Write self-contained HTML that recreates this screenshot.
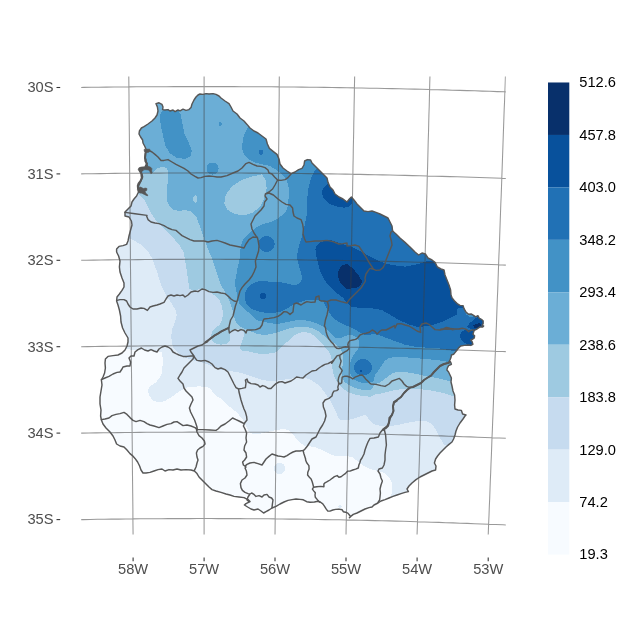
<!DOCTYPE html>
<html><head><meta charset="utf-8"><title>Map</title>
<style>html,body{margin:0;padding:0;background:#fff}svg{display:block}</style></head>
<body>
<svg width="630" height="630" viewBox="0 0 630 630">
<rect width="630" height="630" fill="#fff"/>
<defs><clipPath id="uy"><path d="M156.0,103.6 L159.0,102.8 L162.0,104.4 L163.0,107.0 L162.6,109.6 L165.0,110.0 L168.0,109.6 L170.0,111.0 L173.0,110.0 L175.0,111.6 L178.0,110.0 L180.0,110.8 L183.0,109.2 L186.0,110.4 L189.0,109.6 L191.0,107.6 L192.0,104.0 L194.0,100.0 L196.0,97.0 L198.0,95.0 L200.0,94.0 L203.0,94.4 L206.0,93.6 L209.0,94.0 L213.0,93.6 L216.0,94.4 L219.0,96.0 L221.0,98.0 L225.0,101.0 L229.0,103.6 L231.0,107.0 L233.0,111.0 L237.0,114.0 L240.0,118.0 L244.0,121.0 L247.0,124.4 L250.0,128.0 L254.0,131.0 L258.0,133.0 L262.0,136.0 L266.0,139.0 L267.4,144.0 L269.4,148.4 L273.4,151.6 L277.0,154.4 L279.0,159.0 L280.0,164.0 L283.0,168.0 L287.0,171.0 L291.0,173.6 L295.0,172.0 L298.6,169.6 L302.0,168.4 L304.0,165.0 L304.6,161.0 L307.4,159.6 L310.6,160.0 L312.0,163.0 L315.0,166.0 L318.0,169.0 L321.0,172.0 L324.0,175.0 L327.0,178.0 L328.0,182.4 L330.0,187.0 L333.0,190.0 L335.0,194.0 L339.0,197.0 L343.0,199.0 L347.0,202.0 L349.4,199.0 L351.4,197.0 L354.0,200.0 L357.0,204.0 L360.0,207.0 L364.0,211.0 L368.0,211.6 L372.0,211.0 L376.0,212.4 L380.0,214.0 L384.0,216.0 L388.0,218.0 L390.0,222.0 L392.0,226.0 L392.6,231.0 L396.0,234.0 L400.0,238.0 L405.0,242.4 L410.0,247.0 L415.0,252.0 L418.6,255.0 L422.0,253.0 L425.4,254.0 L428.0,258.0 L432.0,260.0 L435.0,262.4 L437.4,267.0 L441.0,269.0 L444.0,270.0 L445.0,275.0 L447.0,280.0 L449.0,285.0 L450.6,290.0 L451.0,295.0 L452.1,297.9 L454.3,300.7 L457.1,303.6 L460.0,305.4 L463.1,305.7 L464.0,308.6 L466.0,312.1 L468.6,314.3 L471.1,314.0 L473.6,315.4 L475.7,316.9 L477.9,315.7 L479.3,318.3 L481.4,319.3 L483.1,320.7 L483.1,323.6 L482.1,325.4 L483.6,326.0 L482.9,326.9 L480.0,326.9 L477.9,328.3 L476.4,329.3 L474.3,330.3 L473.6,332.1 L472.9,334.3 L474.6,335.7 L474.3,337.9 L472.6,339.3 L470.7,340.0 L472.1,341.7 L472.9,344.3 L470.7,345.4 L468.6,345.0 L464.3,345.4 L460.7,346.0 L458.6,347.9 L457.1,350.0 L455.4,352.1 L453.6,354.3 L451.4,355.0 L451.1,357.1 L450.3,359.3 L449.3,361.4 L450.7,362.1 L451.4,364.3 L448.6,365.7 L447.4,367.9 L446.9,370.0 L448.6,372.0 L450.0,375.0 L451.4,378.0 L451.0,382.0 L452.0,386.0 L453.0,391.0 L454.6,395.0 L455.0,400.0 L454.6,405.0 L455.0,409.0 L458.0,410.0 L461.4,410.4 L462.6,414.0 L466.0,415.0 L465.0,416.0 L463.0,419.0 L460.0,423.0 L457.6,427.0 L456.0,431.0 L455.0,435.0 L453.6,439.0 L452.0,442.0 L449.0,444.4 L446.0,447.0 L443.0,450.0 L440.0,453.0 L437.6,456.0 L435.6,459.0 L434.4,463.0 L436.0,466.0 L435.6,470.0 L432.0,471.0 L428.0,473.0 L424.0,475.0 L420.0,477.0 L416.0,479.6 L412.0,483.0 L409.0,486.0 L407.0,489.0 L408.4,491.6 L405.0,492.4 L401.0,493.6 L397.0,495.0 L393.0,496.4 L389.0,498.0 L385.0,499.6 L381.0,501.0 L378.0,503.0 L374.0,505.0 L372.0,507.0 L369.0,507.6 L365.0,509.0 L361.0,511.0 L357.0,513.0 L353.3,514.4 L351.1,516.1 L349.4,517.8 L350.6,516.7 L349.4,515.0 L347.8,513.1 L345.6,512.2 L343.3,511.7 L342.2,509.8 L338.9,509.1 L335.6,509.4 L332.8,510.0 L330.0,511.1 L327.8,511.1 L326.1,508.9 L324.4,506.1 L322.8,503.9 L320.6,502.2 L317.8,501.3 L314.4,502.0 L310.0,502.2 L306.7,501.7 L303.3,499.8 L300.0,499.4 L296.0,499.0 L292.0,499.6 L288.0,500.4 L284.0,502.0 L280.0,504.0 L276.0,506.4 L272.0,508.0 L269.0,510.0 L266.0,511.6 L263.6,513.0 L261.0,511.0 L258.0,509.0 L254.0,510.0 L251.0,509.0 L247.6,507.0 L244.4,505.0 L246.0,503.6 L250.0,501.6 L248.0,499.6 L244.0,497.6 L239.0,497.0 L234.0,496.4 L230.0,495.0 L226.0,494.0 L221.0,492.4 L216.0,491.0 L212.0,489.6 L209.0,487.0 L206.0,484.0 L202.0,480.0 L199.0,477.0 L197.0,473.6 L194.4,471.0 L191.0,470.0 L186.0,469.6 L181.0,470.0 L177.0,469.0 L173.0,470.0 L169.0,469.6 L165.0,471.0 L162.0,469.0 L158.0,469.6 L154.0,471.0 L150.0,472.4 L146.0,473.0 L143.0,473.0 L141.0,470.0 L139.6,466.0 L137.6,462.0 L135.0,458.4 L132.4,455.6 L130.0,453.6 L127.0,450.0 L124.0,447.0 L120.0,446.0 L116.6,444.0 L115.0,440.0 L113.0,436.0 L110.0,432.0 L106.0,428.0 L103.0,424.0 L101.4,420.0 L100.6,416.0 L101.0,410.0 L100.0,404.0 L100.0,397.0 L101.0,391.0 L102.0,385.0 L101.4,380.0 L103.0,377.0 L104.6,373.0 L105.4,368.0 L105.0,363.0 L105.4,359.0 L108.0,356.4 L113.0,355.6 L118.0,355.0 L122.0,353.0 L125.0,350.0 L127.0,346.0 L128.0,342.0 L128.0,338.0 L125.0,333.0 L122.6,328.0 L121.0,322.0 L120.6,316.0 L119.4,310.0 L118.0,305.0 L116.6,301.0 L117.0,297.0 L119.4,294.0 L122.0,290.4 L124.0,287.0 L124.0,283.0 L122.0,278.0 L120.0,272.0 L119.4,267.0 L120.0,261.0 L118.6,256.0 L116.6,252.0 L116.6,249.0 L119.0,246.4 L123.0,245.6 L126.6,244.4 L128.0,241.0 L129.0,236.0 L130.6,230.0 L132.0,225.0 L131.4,221.0 L129.0,217.0 L125.0,216.0 L125.0,212.0 L128.0,209.0 L131.0,206.0 L132.0,202.0 L134.0,199.0 L136.6,196.0 L138.0,193.0 L139.0,191.0 L138.0,189.0 L138.6,186.0 L140.0,183.0 L141.4,180.0 L142.6,177.0 L142.0,174.0 L140.0,172.0 L139.0,170.0 L140.0,168.0 L146.0,167.6 L147.4,165.6 L146.2,163.0 L146.0,160.0 L145.0,157.0 L145.4,153.0 L146.6,150.0 L146.0,149.0 L144.6,146.0 L143.0,143.0 L142.6,140.0 L140.6,137.0 L139.0,134.0 L139.4,131.0 L141.4,128.0 L144.0,126.6 L148.0,124.0 L152.0,121.0 L155.0,118.0 L157.0,115.0 L158.0,111.0 L157.4,107.0Z"/></clipPath><clipPath id="panel"><rect x="81.2" y="76.4" width="424.6" height="458.2"/></clipPath></defs>
<g clip-path="url(#uy)" shape-rendering="crispEdges">
<rect x="90" y="85" width="400" height="440" fill="#F7FBFF"/>
<path d="M60.0,349.0 L120.0,349.0 L125.8,349.2 L136.7,350.0 L150.0,350.0 L161.7,352.0 L162.8,358.3 L162.5,366.7 L161.3,375.0 L156.7,381.7 L150.8,385.8 L147.5,390.0 L149.2,395.8 L153.3,400.8 L159.2,402.5 L165.0,400.8 L170.8,397.5 L176.7,393.3 L181.7,390.0 L186.7,387.5 L193.3,386.7 L200.0,386.3 L203.0,387.2 L209.0,387.6 L212.0,391.0 L215.0,395.0 L219.0,397.6 L221.0,398.4 L225.0,403.0 L230.0,407.0 L235.0,411.0 L239.0,415.0 L243.0,420.0 L246.0,426.0 L249.0,432.0 L254.0,434.4 L261.0,433.6 L269.0,431.6 L276.0,430.0 L283.0,429.0 L288.0,430.0 L292.0,433.0 L295.0,437.0 L298.0,441.0 L302.0,444.0 L304.0,445.6 L310.0,446.4 L316.0,447.6 L322.0,450.0 L328.0,453.0 L334.0,455.6 L340.0,456.4 L346.0,456.0 L352.0,457.0 L356.0,460.0 L360.0,463.6 L366.0,467.0 L372.0,469.6 L378.0,471.0 L384.0,473.0 L389.0,477.0 L391.6,482.0 L392.0,488.0 L391.6,494.0 L391.0,497.0 L390.0,505.0 L520.0,505.0 L520.0,60.0 L60.0,60.0Z" fill="#DEEBF7"/>
<path d="M285.2,468.4 L285.0,469.9 L284.4,471.2 L283.6,472.4 L282.4,473.2 L281.1,473.8 L279.6,474.0 L278.1,473.8 L276.8,473.2 L275.6,472.4 L274.8,471.2 L274.2,469.9 L274.0,468.4 L274.2,466.9 L274.8,465.6 L275.6,464.4 L276.8,463.6 L278.1,463.0 L279.6,462.8 L281.1,463.0 L282.4,463.6 L283.6,464.4 L284.4,465.6 L285.0,466.9Z" fill="#DEEBF7"/>
<path d="M342.0,506.5 L341.9,506.9 L341.7,507.2 L341.4,507.6 L341.0,507.8 L340.5,507.9 L340.0,508.0 L339.5,507.9 L339.0,507.8 L338.6,507.6 L338.3,507.2 L338.1,506.9 L338.0,506.5 L338.1,506.1 L338.3,505.8 L338.6,505.4 L339.0,505.2 L339.5,505.1 L340.0,505.0 L340.5,505.1 L341.0,505.2 L341.4,505.4 L341.7,505.8 L341.9,506.1Z" fill="#DEEBF7"/>
<path d="M60.0,239.0 L126.0,239.0 L131.0,239.0 L135.0,241.0 L140.0,244.0 L145.0,248.0 L149.0,253.0 L152.6,259.0 L155.0,266.0 L157.4,273.0 L159.4,280.0 L162.0,287.0 L165.0,293.0 L168.0,298.0 L172.5,305.0 L175.8,310.0 L176.7,315.0 L175.0,321.7 L172.5,328.3 L171.3,335.0 L171.7,341.7 L173.3,347.5 L176.7,351.7 L181.7,355.8 L186.7,358.3 L190.8,359.2 L195.0,360.8 L200.0,362.0 L203.0,363.0 L209.0,365.0 L215.0,368.0 L221.0,370.0 L229.0,371.0 L237.0,372.0 L245.0,374.0 L253.0,377.0 L261.0,379.6 L268.0,381.0 L275.0,381.0 L281.0,380.0 L289.0,379.0 L297.0,377.6 L305.0,378.0 L311.0,380.0 L317.0,384.0 L322.0,389.0 L326.0,394.4 L330.0,400.0 L333.0,406.0 L336.0,412.0 L338.0,417.0 L340.0,420.0 L346.0,420.5 L352.0,419.0 L359.0,417.0 L365.0,414.5 L368.0,418.0 L371.0,422.0 L376.0,425.0 L383.0,426.4 L390.0,426.0 L398.0,425.0 L406.0,423.0 L414.0,421.6 L422.0,421.0 L428.0,421.6 L433.0,425.0 L436.0,430.0 L439.0,436.0 L442.0,441.0 L444.4,445.0 L447.0,446.0 L455.0,446.0 L520.0,446.0 L520.0,60.0 L60.0,60.0Z" fill="#C6DBEF"/>
<path d="M60.0,194.0 L133.0,194.0 L138.0,194.0 L142.0,197.0 L145.0,201.0 L147.4,206.0 L150.0,211.0 L153.0,216.0 L157.0,222.0 L163.0,228.0 L169.0,234.0 L175.0,240.0 L180.0,246.0 L183.4,252.0 L185.0,259.0 L186.0,266.0 L187.1,272.1 L188.1,280.7 L189.3,288.6 L193.6,290.7 L197.9,289.6 L201.4,288.6 L205.0,289.3 L209.3,291.9 L215.0,295.7 L219.3,300.0 L221.9,305.7 L222.9,312.1 L222.4,318.6 L220.0,324.3 L215.7,327.9 L212.4,331.0 L211.0,335.7 L211.9,340.0 L215.0,343.3 L220.7,344.7 L226.4,343.9 L229.6,341.4 L230.4,337.9 L230.0,333.6 L229.6,331.0 L232.1,330.0 L237.9,329.3 L243.3,331.0 L243.9,335.0 L242.9,339.3 L240.7,345.0 L240.0,348.6 L242.1,350.7 L246.4,350.7 L252.4,352.3 L260.0,353.8 L267.6,353.8 L273.3,352.9 L276.1,352.2 L279.4,348.9 L282.8,345.6 L286.1,342.8 L290.6,338.9 L295.0,335.0 L299.4,332.8 L303.9,332.0 L309.4,332.8 L313.9,335.6 L317.8,339.4 L321.7,343.3 L325.0,347.2 L328.3,351.1 L330.6,355.6 L331.7,360.0 L332.2,365.6 L332.8,372.2 L334.9,377.6 L338.0,383.3 L342.1,388.1 L347.9,391.9 L355.5,394.8 L363.1,396.1 L370.7,396.7 L375.0,394.3 L380.7,393.6 L386.4,392.1 L392.1,390.7 L397.9,389.7 L403.6,389.0 L410.7,388.6 L417.9,388.9 L425.0,389.7 L432.1,390.7 L439.3,392.1 L446.4,394.0 L452.0,395.7 L460.0,398.0 L520.0,398.0 L520.0,60.0 L60.0,60.0Z" fill="#9ECAE1"/>
<path d="M60.0,173.0 L145.0,173.0 L152.0,173.0 L155.0,170.0 L159.0,167.6 L164.0,167.0 L167.0,168.4 L168.0,172.0 L168.0,178.0 L167.4,186.0 L167.0,194.0 L167.4,202.0 L170.0,207.0 L174.0,210.0 L179.0,211.0 L185.0,210.0 L191.0,211.6 L196.0,216.0 L199.0,224.0 L202.0,232.0 L205.0,241.0 L208.0,249.0 L211.0,256.0 L214.0,264.0 L216.6,272.0 L219.0,279.0 L221.0,285.0 L224.0,290.0 L227.0,296.0 L230.0,302.0 L232.0,308.0 L233.4,314.0 L235.0,320.0 L238.0,325.0 L243.0,328.0 L249.0,330.4 L257.0,334.0 L265.0,335.0 L269.4,334.2 L273.9,333.3 L278.3,332.2 L282.8,330.6 L287.2,328.9 L292.8,327.6 L298.3,326.9 L303.9,326.9 L309.4,327.6 L313.9,328.9 L318.3,331.1 L321.7,333.9 L325.0,336.7 L328.3,339.4 L331.7,341.7 L335.0,343.3 L338.0,346.0 L341.2,350.0 L343.1,355.7 L343.1,362.4 L342.1,369.0 L342.1,375.7 L344.0,381.4 L348.8,385.2 L355.5,388.1 L363.1,390.0 L370.7,390.0 L375.0,384.3 L379.3,382.9 L383.6,380.0 L387.9,376.4 L392.1,373.6 L397.9,371.7 L403.6,371.7 L410.7,372.9 L417.9,374.3 L425.0,376.0 L432.1,377.1 L439.3,378.6 L446.4,380.3 L450.0,381.4 L460.0,383.0 L520.0,383.0 L520.0,60.0 L60.0,60.0Z" fill="#6BAED6"/>
<path d="M261.7,174.3 L251.7,176.7 L241.7,180.0 L231.7,186.7 L225.7,195.0 L224.3,203.3 L227.7,210.0 L235.0,214.3 L245.0,215.0 L253.3,212.3 L260.0,206.7 L264.3,198.3 L266.7,188.3 L265.7,180.0Z" fill="#9ECAE1"/>
<path d="M197.5,199.0 L197.4,199.9 L197.2,200.8 L196.9,201.6 L196.4,202.1 L195.9,202.5 L195.3,202.6 L194.7,202.5 L194.2,202.1 L193.7,201.6 L193.4,200.8 L193.2,199.9 L193.1,199.0 L193.2,198.1 L193.4,197.2 L193.7,196.4 L194.2,195.9 L194.7,195.5 L195.3,195.4 L195.9,195.5 L196.4,195.9 L196.9,196.4 L197.2,197.2 L197.4,198.1Z" fill="#9ECAE1"/>
<path d="M160.5,114.0 L163.5,109.5 L170.0,108.5 L177.0,109.5 L180.5,114.0 L182.3,123.3 L184.3,133.3 L188.3,141.7 L191.7,150.0 L191.0,155.7 L185.0,159.0 L176.7,157.7 L170.0,153.3 L165.7,146.7 L163.3,136.7 L161.0,126.7 L160.0,120.0Z" fill="#4292C6"/>
<path d="M218.6,168.6 L218.4,170.2 L217.8,171.6 L216.8,172.8 L215.6,173.8 L214.2,174.4 L212.6,174.6 L211.1,174.4 L209.6,173.8 L208.4,172.8 L207.4,171.6 L206.8,170.2 L206.6,168.6 L206.8,167.1 L207.4,165.6 L208.4,164.4 L209.6,163.4 L211.1,162.8 L212.6,162.6 L214.2,162.8 L215.6,163.4 L216.8,164.4 L217.8,165.6 L218.4,167.1Z" fill="#4292C6"/>
<path d="M222.2,124.0 L222.1,124.5 L222.0,124.9 L221.7,125.3 L221.3,125.6 L220.9,125.7 L220.4,125.8 L219.9,125.7 L219.5,125.6 L219.1,125.3 L218.8,124.9 L218.7,124.5 L218.6,124.0 L218.7,123.5 L218.8,123.1 L219.1,122.7 L219.5,122.4 L219.9,122.3 L220.4,122.2 L220.9,122.3 L221.3,122.4 L221.7,122.7 L222.0,123.1 L222.1,123.5Z" fill="#4292C6"/>
<path d="M252.0,60.0 L252.0,120.0 L247.0,128.4 L243.0,138.0 L242.0,148.0 L244.0,155.0 L249.0,159.6 L256.0,163.0 L263.0,164.4 L270.0,166.0 L275.0,169.0 L279.0,172.0 L283.0,176.0 L286.0,179.0 L288.0,184.0 L289.0,190.0 L288.6,198.0 L288.0,206.0 L286.0,212.0 L281.0,216.0 L277.0,219.0 L271.0,222.0 L263.0,224.0 L257.0,227.0 L252.0,231.0 L247.0,235.0 L243.0,240.0 L241.0,246.0 L240.0,253.0 L239.4,260.0 L238.0,266.0 L236.6,273.0 L235.4,280.0 L235.4,286.0 L236.6,293.0 L238.0,300.0 L240.0,305.0 L245.0,310.0 L250.0,313.5 L256.0,320.0 L265.0,322.2 L270.6,323.1 L276.1,323.9 L281.7,323.3 L287.2,322.0 L292.8,320.9 L298.3,320.0 L303.9,320.2 L309.4,321.1 L315.0,322.8 L320.6,325.0 L325.0,327.8 L328.3,331.1 L331.7,334.4 L335.0,337.8 L340.0,338.5 L345.0,336.0 L350.2,334.5 L352.7,335.2 L355.2,336.4 L357.1,337.7 L359.0,340.2 L359.0,347.2 L357.8,349.8 L355.9,351.7 L354.0,354.2 L352.1,357.4 L350.8,360.6 L350.2,363.1 L349.5,367.1 L350.7,374.8 L354.5,379.5 L360.2,382.4 L366.9,383.3 L373.6,381.4 L375.0,375.0 L377.9,371.4 L381.4,365.7 L385.0,360.7 L389.3,357.9 L395.0,356.9 L403.6,357.1 L412.1,357.9 L420.7,358.6 L429.3,359.3 L436.4,360.0 L443.6,361.1 L448.0,362.0 L460.0,364.0 L520.0,364.0 L520.0,60.0Z" fill="#4292C6"/>
<path d="M263.5,152.3 L263.4,152.9 L263.2,153.6 L262.8,154.1 L262.2,154.5 L261.6,154.7 L261.0,154.8 L260.4,154.7 L259.8,154.5 L259.2,154.1 L258.8,153.6 L258.6,152.9 L258.5,152.3 L258.6,151.7 L258.8,151.1 L259.2,150.5 L259.8,150.1 L260.4,149.9 L261.0,149.8 L261.6,149.9 L262.2,150.1 L262.8,150.5 L263.2,151.1 L263.4,151.7Z" fill="#2171B5"/>
<path d="M274.6,244.0 L274.3,246.1 L273.5,248.0 L272.3,249.7 L270.6,250.9 L268.7,251.7 L266.6,252.0 L264.5,251.7 L262.6,250.9 L260.9,249.7 L259.7,248.0 L258.9,246.1 L258.6,244.0 L258.9,241.9 L259.7,240.0 L260.9,238.3 L262.6,237.1 L264.5,236.3 L266.6,236.0 L268.7,236.3 L270.6,237.1 L272.3,238.3 L273.5,240.0 L274.3,241.9Z" fill="#2171B5"/>
<path d="M371.9,367.2 L371.8,368.6 L371.4,370.0 L370.7,371.4 L369.8,372.5 L368.7,373.6 L367.4,374.4 L366.0,375.0 L364.6,375.4 L363.0,375.5 L361.4,375.4 L360.0,375.0 L358.6,374.4 L357.3,373.6 L356.2,372.5 L355.3,371.4 L354.6,370.0 L354.2,368.6 L354.1,367.2 L354.2,365.8 L354.6,364.4 L355.3,363.1 L356.2,361.9 L357.3,360.8 L358.6,360.0 L360.0,359.4 L361.4,359.0 L363.0,358.9 L364.6,359.0 L366.0,359.4 L367.4,360.0 L368.7,360.8 L369.8,361.9 L370.7,363.1 L371.4,364.4 L371.8,365.8Z" fill="#2171B5"/>
<path d="M362.6,370.9 L362.4,371.5 L361.9,371.9 L361.3,372.1 L360.6,371.9 L360.2,371.5 L360.0,370.9 L360.2,370.3 L360.6,369.9 L361.3,369.7 L361.9,369.9 L362.4,370.3Z" fill="#08519C"/>
<path d="M320.0,60.0 L320.0,165.0 L315.0,170.0 L312.0,176.0 L310.0,182.0 L308.0,190.0 L307.4,198.0 L307.0,206.0 L306.6,216.0 L305.0,224.0 L303.0,232.0 L301.0,240.0 L298.6,247.0 L297.4,254.0 L297.4,260.0 L299.0,266.0 L301.0,272.0 L302.0,278.0 L301.0,282.0 L298.0,284.4 L293.0,285.0 L287.0,283.6 L281.0,282.4 L275.0,282.0 L269.0,281.6 L263.0,281.0 L257.0,281.6 L252.0,284.0 L248.0,287.6 L245.4,292.0 L245.0,298.0 L246.0,303.0 L249.0,307.0 L254.0,310.0 L260.0,312.0 L267.0,313.0 L274.0,313.0 L281.0,311.6 L287.0,308.4 L292.0,305.6 L297.0,303.0 L303.0,301.0 L310.0,299.6 L317.0,300.0 L323.0,301.6 L327.9,310.0 L330.7,314.8 L335.5,319.5 L341.2,323.3 L347.9,326.2 L354.5,329.0 L360.2,332.9 L365.0,334.8 L375.0,334.3 L380.7,335.7 L386.4,337.9 L392.1,340.0 L397.9,342.1 L403.6,344.3 L409.3,345.7 L416.4,346.9 L423.6,347.4 L432.1,347.9 L440.7,348.6 L449.3,350.0 L455.0,351.4 L462.0,352.0 L520.0,352.0 L520.0,60.0Z" fill="#2171B5"/>
<path d="M330.0,180.0 L327.0,185.0 L323.0,188.0 L322.0,193.0 L323.4,198.0 L327.0,202.0 L332.0,205.0 L338.0,207.0 L344.0,207.6 L348.0,207.0 L352.0,203.0 L352.0,195.0 L345.0,185.0Z" fill="#08519C"/>
<path d="M266.0,296.0 L265.9,296.8 L265.6,297.5 L265.1,298.1 L264.5,298.6 L263.8,298.9 L263.0,299.0 L262.2,298.9 L261.5,298.6 L260.9,298.1 L260.4,297.5 L260.1,296.8 L260.0,296.0 L260.1,295.2 L260.4,294.5 L260.9,293.9 L261.5,293.4 L262.2,293.1 L263.0,293.0 L263.8,293.1 L264.5,293.4 L265.1,293.9 L265.6,294.5 L265.9,295.2Z" fill="#08519C"/>
<path d="M445.0,258.0 L433.0,261.0 L428.3,260.7 L418.3,264.0 L405.0,266.7 L391.7,265.0 L380.0,261.7 L370.0,256.7 L361.7,251.7 L351.7,246.7 L340.0,243.3 L330.0,240.0 L321.0,242.0 L317.0,245.0 L315.4,249.0 L316.0,255.0 L317.4,261.0 L319.0,267.0 L321.0,273.0 L324.0,279.0 L328.0,285.0 L333.0,290.0 L338.0,294.0 L343.0,297.6 L347.0,303.0 L351.7,306.7 L361.7,308.3 L371.7,308.3 L381.7,310.0 L389.3,314.3 L396.4,318.6 L403.6,322.1 L410.7,325.0 L417.9,326.9 L425.0,326.4 L432.1,325.0 L439.3,322.9 L446.4,320.0 L453.6,316.4 L459.3,312.9 L464.0,308.0 L470.0,300.0 L470.0,258.0Z" fill="#08519C"/>
<path d="M464.0,307.9 L466.0,312.1 L468.6,314.3 L471.1,314.0 L473.6,315.4 L475.7,316.9 L477.9,315.7 L479.3,318.3 L481.4,319.3 L484.3,320.7 L484.3,327.1 L475.7,330.0 L472.9,334.3 L475.0,335.7 L474.3,340.0 L472.9,345.0 L457.1,347.1 L457.1,308.6Z" fill="#2171B5"/>
<path d="M465.0,312.1 L466.4,314.6 L469.3,316.9 L472.9,317.1 L474.3,315.7 L471.4,313.7 L468.6,314.0 L466.0,311.7Z" fill="#4292C6"/>
<path d="M472.9,320.3 L477.1,317.4 L484.3,318.6 L484.3,328.6 L478.6,328.6 L475.0,330.0 L471.4,329.3 L468.6,327.9 L467.1,326.4 L470.0,322.9Z" fill="#08519C"/>
<path d="M472.9,325.4 L475.7,324.0 L480.0,322.9 L481.4,325.0 L480.0,327.1 L477.1,327.9 L474.3,327.9Z" fill="#08306B"/>
<path d="M468.6,330.0 L464.3,330.3 L461.4,331.7 L460.0,335.0 L460.7,338.6 L462.9,341.4 L466.4,344.0 L468.6,345.4 L475.7,345.7 L475.7,330.0Z" fill="#08519C"/>
<path d="M347.0,264.0 L343.0,265.0 L340.0,267.6 L338.0,272.0 L338.0,277.0 L340.0,282.0 L343.0,286.0 L347.0,289.0 L352.0,288.4 L357.0,287.6 L361.0,285.0 L362.0,281.0 L359.0,276.0 L355.0,271.0 L351.0,267.0Z" fill="#08306B"/>
</g>
<g clip-path="url(#panel)"><path d="M-9.3,521.7 L-2.2,521.5 L4.9,521.3 L12.0,521.1 L19.1,520.9 L26.3,520.8 L33.4,520.6 L40.5,520.4 L47.6,520.3 L54.7,520.1 L61.8,520.0 L68.9,519.8 L76.0,519.7 L83.2,519.6 L90.3,519.5 L97.4,519.3 L104.5,519.2 L111.6,519.1 L118.7,519.1 L125.8,519.0 L132.9,518.9 L140.1,518.8 L147.2,518.8 L154.3,518.7 L161.4,518.7 L168.5,518.6 L175.6,518.6 L182.7,518.6 L189.8,518.6 L197.0,518.5 L204.1,518.5 L211.2,518.5 L218.3,518.6 L225.4,518.6 L232.5,518.6 L239.6,518.6 L246.7,518.7 L253.8,518.7 L261.0,518.8 L268.1,518.8 L275.2,518.9 L282.3,519.0 L289.4,519.1 L296.5,519.1 L303.6,519.2 L310.7,519.3 L317.9,519.5 L325.0,519.6 L332.1,519.7 L339.2,519.8 L346.3,520.0 L353.4,520.1 L360.5,520.3 L367.6,520.4 L374.8,520.6 L381.9,520.8 L389.0,520.9 L396.1,521.1 L403.2,521.3 L410.3,521.5 L417.5,521.7 L424.6,522.0 L431.7,522.2 L438.8,522.4 L445.9,522.7 L453.0,522.9 L460.1,523.2 L467.3,523.4 L474.4,523.7 L481.5,524.0 L488.6,524.2 L495.7,524.5 L502.9,524.8 L510.0,525.1 L517.1,525.4 L524.2,525.8 L531.3,526.1 L538.4,526.4 L545.6,526.8 L552.7,527.1 L559.8,527.5 M-11.9,435.3 L-4.7,435.1 L2.5,434.9 L9.7,434.7 L16.9,434.5 L24.1,434.3 L31.3,434.1 L38.5,434.0 L45.7,433.8 L52.9,433.7 L60.1,433.5 L67.3,433.4 L74.5,433.3 L81.7,433.1 L88.9,433.0 L96.1,432.9 L103.3,432.8 L110.5,432.7 L117.7,432.6 L124.9,432.5 L132.1,432.5 L139.3,432.4 L146.5,432.3 L153.7,432.3 L160.9,432.2 L168.1,432.2 L175.3,432.2 L182.5,432.2 L189.7,432.1 L196.9,432.1 L204.1,432.1 L211.3,432.1 L218.5,432.1 L225.7,432.2 L232.9,432.2 L240.1,432.2 L247.2,432.2 L254.4,432.3 L261.6,432.3 L268.8,432.4 L276.0,432.5 L283.2,432.5 L290.4,432.6 L297.6,432.7 L304.8,432.8 L312.0,432.9 L319.2,433.0 L326.4,433.1 L333.6,433.3 L340.8,433.4 L348.0,433.5 L355.2,433.7 L362.4,433.8 L369.6,434.0 L376.8,434.1 L384.0,434.3 L391.2,434.5 L398.4,434.7 L405.6,434.9 L412.8,435.1 L420.0,435.3 L427.2,435.5 L434.4,435.7 L441.6,435.9 L448.8,436.2 L456.0,436.4 L463.2,436.7 L470.4,436.9 L477.6,437.2 L484.8,437.5 L492.0,437.7 L499.2,438.0 L506.4,438.3 L513.7,438.6 L520.9,438.9 L528.1,439.2 L535.3,439.6 L542.5,439.9 L549.7,440.2 L556.9,440.6 L564.1,440.9 M-14.4,348.8 L-7.1,348.6 L0.2,348.4 L7.5,348.2 L14.7,348.1 L22.0,347.9 L29.3,347.7 L36.6,347.5 L43.9,347.4 L51.2,347.2 L58.4,347.1 L65.7,347.0 L73.0,346.8 L80.3,346.7 L87.6,346.6 L94.9,346.5 L102.1,346.4 L109.4,346.3 L116.7,346.2 L124.0,346.1 L131.3,346.1 L138.5,346.0 L145.8,345.9 L153.1,345.9 L160.4,345.8 L167.7,345.8 L174.9,345.8 L182.2,345.7 L189.5,345.7 L196.8,345.7 L204.1,345.7 L211.3,345.7 L218.6,345.7 L225.9,345.7 L233.2,345.8 L240.5,345.8 L247.7,345.8 L255.0,345.9 L262.3,345.9 L269.6,346.0 L276.9,346.1 L284.2,346.1 L291.4,346.2 L298.7,346.3 L306.0,346.4 L313.3,346.5 L320.6,346.6 L327.8,346.7 L335.1,346.8 L342.4,347.0 L349.7,347.1 L357.0,347.2 L364.2,347.4 L371.5,347.5 L378.8,347.7 L386.1,347.9 L393.4,348.1 L400.7,348.2 L407.9,348.4 L415.2,348.6 L422.5,348.8 L429.8,349.0 L437.1,349.3 L444.4,349.5 L451.7,349.7 L458.9,350.0 L466.2,350.2 L473.5,350.5 L480.8,350.7 L488.1,351.0 L495.4,351.3 L502.7,351.5 L510.0,351.8 L517.2,352.1 L524.5,352.4 L531.8,352.7 L539.1,353.0 L546.4,353.4 L553.7,353.7 L561.0,354.0 L568.3,354.4 M-16.8,262.4 L-9.5,262.2 L-2.1,262.0 L5.3,261.8 L12.6,261.6 L20.0,261.4 L27.4,261.3 L34.7,261.1 L42.1,261.0 L49.5,260.8 L56.8,260.7 L64.2,260.5 L71.5,260.4 L78.9,260.3 L86.3,260.2 L93.6,260.1 L101.0,260.0 L108.4,259.9 L115.7,259.8 L123.1,259.7 L130.4,259.7 L137.8,259.6 L145.2,259.5 L152.5,259.5 L159.9,259.4 L167.3,259.4 L174.6,259.4 L182.0,259.4 L189.3,259.3 L196.7,259.3 L204.1,259.3 L211.4,259.3 L218.8,259.3 L226.1,259.4 L233.5,259.4 L240.9,259.4 L248.2,259.4 L255.6,259.5 L263.0,259.5 L270.3,259.6 L277.7,259.7 L285.0,259.7 L292.4,259.8 L299.8,259.9 L307.1,260.0 L314.5,260.1 L321.9,260.2 L329.2,260.3 L336.6,260.4 L343.9,260.5 L351.3,260.7 L358.7,260.8 L366.0,261.0 L373.4,261.1 L380.8,261.3 L388.1,261.4 L395.5,261.6 L402.9,261.8 L410.2,262.0 L417.6,262.2 L425.0,262.4 L432.3,262.6 L439.7,262.8 L447.1,263.0 L454.4,263.3 L461.8,263.5 L469.2,263.7 L476.5,264.0 L483.9,264.2 L491.3,264.5 L498.6,264.8 L506.0,265.1 L513.4,265.3 L520.7,265.6 L528.1,265.9 L535.5,266.2 L542.9,266.5 L550.2,266.9 L557.6,267.2 L565.0,267.5 L572.3,267.8 M-19.2,176.0 L-11.7,175.8 L-4.3,175.6 L3.1,175.4 L10.6,175.2 L18.0,175.0 L25.5,174.9 L32.9,174.7 L40.4,174.6 L47.8,174.4 L55.2,174.3 L62.7,174.1 L70.1,174.0 L77.6,173.9 L85.0,173.8 L92.5,173.7 L99.9,173.6 L107.3,173.5 L114.8,173.4 L122.2,173.3 L129.7,173.3 L137.1,173.2 L144.5,173.2 L152.0,173.1 L159.4,173.1 L166.9,173.0 L174.3,173.0 L181.7,173.0 L189.2,173.0 L196.6,172.9 L204.1,172.9 L211.5,172.9 L218.9,173.0 L226.4,173.0 L233.8,173.0 L241.3,173.0 L248.7,173.1 L256.1,173.1 L263.6,173.2 L271.0,173.2 L278.5,173.3 L285.9,173.3 L293.3,173.4 L300.8,173.5 L308.2,173.6 L315.7,173.7 L323.1,173.8 L330.6,173.9 L338.0,174.0 L345.4,174.1 L352.9,174.3 L360.3,174.4 L367.8,174.6 L375.2,174.7 L382.7,174.9 L390.1,175.0 L397.5,175.2 L405.0,175.4 L412.4,175.6 L419.9,175.8 L427.3,176.0 L434.8,176.2 L442.2,176.4 L449.7,176.6 L457.1,176.8 L464.5,177.0 L472.0,177.3 L479.4,177.5 L486.9,177.8 L494.3,178.0 L501.8,178.3 L509.2,178.6 L516.7,178.8 L524.1,179.1 L531.6,179.4 L539.0,179.7 L546.5,180.0 L553.9,180.3 L561.4,180.7 L568.8,181.0 L576.3,181.3 M-21.5,89.5 L-14.0,89.3 L-6.4,89.1 L1.1,89.0 L8.6,88.8 L16.1,88.6 L23.6,88.5 L31.2,88.3 L38.7,88.2 L46.2,88.0 L53.7,87.9 L61.2,87.8 L68.8,87.6 L76.3,87.5 L83.8,87.4 L91.3,87.3 L98.8,87.2 L106.3,87.1 L113.9,87.0 L121.4,87.0 L128.9,86.9 L136.4,86.8 L143.9,86.8 L151.4,86.7 L159.0,86.7 L166.5,86.7 L174.0,86.6 L181.5,86.6 L189.0,86.6 L196.5,86.6 L204.1,86.6 L211.6,86.6 L219.1,86.6 L226.6,86.6 L234.1,86.6 L241.6,86.7 L249.2,86.7 L256.7,86.7 L264.2,86.8 L271.7,86.8 L279.2,86.9 L286.8,87.0 L294.3,87.0 L301.8,87.1 L309.3,87.2 L316.8,87.3 L324.3,87.4 L331.9,87.5 L339.4,87.6 L346.9,87.8 L354.4,87.9 L361.9,88.0 L369.5,88.2 L377.0,88.3 L384.5,88.5 L392.0,88.6 L399.5,88.8 L407.1,89.0 L414.6,89.1 L422.1,89.3 L429.6,89.5 L437.1,89.7 L444.7,89.9 L452.2,90.2 L459.7,90.4 L467.2,90.6 L474.8,90.8 L482.3,91.1 L489.8,91.3 L497.3,91.6 L504.9,91.8 L512.4,92.1 L519.9,92.4 L527.4,92.6 L535.0,92.9 L542.5,93.2 L550.0,93.5 L557.5,93.8 L565.1,94.1 L572.6,94.5 L580.1,94.8 M133.8,605.3 L133.7,596.7 L133.6,588.0 L133.6,579.4 L133.5,570.8 L133.4,562.1 L133.3,553.5 L133.2,544.8 L133.1,536.2 L133.0,527.5 L132.9,518.9 L132.9,510.3 L132.8,501.6 L132.7,493.0 L132.6,484.3 L132.5,475.7 L132.4,467.0 L132.3,458.4 L132.3,449.8 L132.2,441.1 L132.1,432.5 L132.0,423.8 L131.9,415.2 L131.8,406.5 L131.8,397.9 L131.7,389.3 L131.6,380.6 L131.5,372.0 L131.4,363.3 L131.3,354.7 L131.3,346.1 L131.2,337.4 L131.1,328.8 L131.0,320.1 L130.9,311.5 L130.9,302.9 L130.8,294.2 L130.7,285.6 L130.6,276.9 L130.5,268.3 L130.4,259.7 L130.4,251.0 L130.3,242.4 L130.2,233.7 L130.1,225.1 L130.1,216.5 L130.0,207.8 L129.9,199.2 L129.8,190.6 L129.7,181.9 L129.7,173.3 L129.6,164.6 L129.5,156.0 L129.4,147.4 L129.4,138.7 L129.3,130.1 L129.2,121.5 L129.1,112.8 L129.0,104.2 L129.0,95.5 L128.9,86.9 L128.8,78.3 L128.7,69.6 L128.7,61.0 L128.6,52.4 L128.5,43.7 L128.4,35.1 L128.4,26.4 L128.3,17.8 L128.2,9.2 L128.2,0.5 M204.1,605.0 L204.1,596.3 L204.1,587.7 L204.1,579.0 L204.1,570.4 L204.1,561.8 L204.1,553.1 L204.1,544.5 L204.1,535.8 L204.1,527.2 L204.1,518.5 L204.1,509.9 L204.1,501.3 L204.1,492.6 L204.1,484.0 L204.1,475.3 L204.1,466.7 L204.1,458.0 L204.1,449.4 L204.1,440.8 L204.1,432.1 L204.1,423.5 L204.1,414.8 L204.1,406.2 L204.1,397.6 L204.1,388.9 L204.1,380.3 L204.1,371.6 L204.1,363.0 L204.1,354.4 L204.1,345.7 L204.1,337.1 L204.1,328.4 L204.1,319.8 L204.1,311.2 L204.1,302.5 L204.1,293.9 L204.1,285.2 L204.1,276.6 L204.1,268.0 L204.1,259.3 L204.1,250.7 L204.1,242.0 L204.1,233.4 L204.1,224.8 L204.1,216.1 L204.1,207.5 L204.1,198.9 L204.1,190.2 L204.1,181.6 L204.1,172.9 L204.1,164.3 L204.1,155.7 L204.1,147.0 L204.1,138.4 L204.1,129.8 L204.1,121.1 L204.1,112.5 L204.1,103.8 L204.1,95.2 L204.1,86.6 L204.1,77.9 L204.1,69.3 L204.1,60.7 L204.1,52.0 L204.1,43.4 L204.1,34.8 L204.1,26.1 L204.1,17.5 L204.1,8.9 L204.1,0.2 M274.3,605.3 L274.4,596.7 L274.5,588.0 L274.6,579.4 L274.7,570.8 L274.7,562.1 L274.8,553.5 L274.9,544.8 L275.0,536.2 L275.1,527.5 L275.2,518.9 L275.3,510.3 L275.4,501.6 L275.4,493.0 L275.5,484.3 L275.6,475.7 L275.7,467.0 L275.8,458.4 L275.9,449.8 L276.0,441.1 L276.0,432.5 L276.1,423.8 L276.2,415.2 L276.3,406.5 L276.4,397.9 L276.5,389.3 L276.5,380.6 L276.6,372.0 L276.7,363.3 L276.8,354.7 L276.9,346.1 L277.0,337.4 L277.0,328.8 L277.1,320.1 L277.2,311.5 L277.3,302.9 L277.4,294.2 L277.4,285.6 L277.5,276.9 L277.6,268.3 L277.7,259.7 L277.8,251.0 L277.8,242.4 L277.9,233.7 L278.0,225.1 L278.1,216.5 L278.2,207.8 L278.2,199.2 L278.3,190.6 L278.4,181.9 L278.5,173.3 L278.5,164.6 L278.6,156.0 L278.7,147.4 L278.8,138.7 L278.9,130.1 L278.9,121.5 L279.0,112.8 L279.1,104.2 L279.2,95.5 L279.2,86.9 L279.3,78.3 L279.4,69.6 L279.5,61.0 L279.5,52.4 L279.6,43.7 L279.7,35.1 L279.8,26.4 L279.8,17.8 L279.9,9.2 L280.0,0.5 M344.6,606.4 L344.7,597.8 L344.9,589.1 L345.1,580.5 L345.3,571.8 L345.4,563.2 L345.6,554.5 L345.8,545.9 L346.0,537.3 L346.1,528.6 L346.3,520.0 L346.5,511.3 L346.7,502.7 L346.8,494.0 L347.0,485.4 L347.2,476.7 L347.3,468.1 L347.5,459.5 L347.7,450.8 L347.8,442.2 L348.0,433.5 L348.2,424.9 L348.4,416.2 L348.5,407.6 L348.7,399.0 L348.9,390.3 L349.0,381.7 L349.2,373.0 L349.4,364.4 L349.5,355.7 L349.7,347.1 L349.8,338.5 L350.0,329.8 L350.2,321.2 L350.3,312.5 L350.5,303.9 L350.7,295.2 L350.8,286.6 L351.0,278.0 L351.1,269.3 L351.3,260.7 L351.5,252.0 L351.6,243.4 L351.8,234.8 L351.9,226.1 L352.1,217.5 L352.3,208.8 L352.4,200.2 L352.6,191.6 L352.7,182.9 L352.9,174.3 L353.0,165.6 L353.2,157.0 L353.3,148.4 L353.5,139.7 L353.7,131.1 L353.8,122.4 L354.0,113.8 L354.1,105.2 L354.3,96.5 L354.4,87.9 L354.6,79.2 L354.7,70.6 L354.9,62.0 L355.0,53.3 L355.2,44.7 L355.3,36.1 L355.5,27.4 L355.6,18.8 L355.8,10.1 L355.9,1.5 M414.8,608.2 L415.1,599.6 L415.4,590.9 L415.6,582.3 L415.9,573.6 L416.1,565.0 L416.4,556.3 L416.7,547.7 L416.9,539.0 L417.2,530.4 L417.5,521.7 L417.7,513.1 L418.0,504.5 L418.2,495.8 L418.5,487.2 L418.7,478.5 L419.0,469.9 L419.3,461.2 L419.5,452.6 L419.8,443.9 L420.0,435.3 L420.3,426.6 L420.5,418.0 L420.8,409.3 L421.0,400.7 L421.3,392.1 L421.5,383.4 L421.8,374.8 L422.0,366.1 L422.3,357.5 L422.5,348.8 L422.8,340.2 L423.0,331.5 L423.3,322.9 L423.5,314.3 L423.7,305.6 L424.0,297.0 L424.2,288.3 L424.5,279.7 L424.7,271.0 L425.0,262.4 L425.2,253.7 L425.4,245.1 L425.7,236.5 L425.9,227.8 L426.1,219.2 L426.4,210.5 L426.6,201.9 L426.9,193.2 L427.1,184.6 L427.3,176.0 L427.6,167.3 L427.8,158.7 L428.0,150.0 L428.2,141.4 L428.5,132.7 L428.7,124.1 L428.9,115.5 L429.2,106.8 L429.4,98.2 L429.6,89.5 L429.8,80.9 L430.1,72.2 L430.3,63.6 L430.5,55.0 L430.7,46.3 L431.0,37.7 L431.2,29.0 L431.4,20.4 L431.6,11.8 L431.8,3.1 M485.1,610.7 L485.5,602.1 L485.8,593.4 L486.2,584.8 L486.5,576.1 L486.9,567.5 L487.2,558.8 L487.6,550.2 L487.9,541.5 L488.3,532.9 L488.6,524.2 L489.0,515.6 L489.3,506.9 L489.7,498.3 L490.0,489.6 L490.3,481.0 L490.7,472.3 L491.0,463.7 L491.4,455.0 L491.7,446.4 L492.0,437.7 L492.4,429.1 L492.7,420.4 L493.1,411.8 L493.4,403.1 L493.7,394.5 L494.1,385.9 L494.4,377.2 L494.7,368.6 L495.0,359.9 L495.4,351.3 L495.7,342.6 L496.0,334.0 L496.4,325.3 L496.7,316.7 L497.0,308.0 L497.3,299.4 L497.7,290.7 L498.0,282.1 L498.3,273.4 L498.6,264.8 L498.9,256.1 L499.3,247.5 L499.6,238.8 L499.9,230.2 L500.2,221.5 L500.5,212.9 L500.8,204.2 L501.2,195.6 L501.5,186.9 L501.8,178.3 L502.1,169.7 L502.4,161.0 L502.7,152.4 L503.0,143.7 L503.3,135.1 L503.6,126.4 L503.9,117.8 L504.2,109.1 L504.6,100.5 L504.9,91.8 L505.2,83.2 L505.5,74.5 L505.8,65.9 L506.1,57.2 L506.4,48.6 L506.7,40.0 L506.9,31.3 L507.2,22.7 L507.5,14.0 L507.8,5.4" fill="none" stroke="#404040" stroke-opacity="0.534" stroke-width="1.07"/></g>
<path d="M146.6,150.0 L149.0,150.4 L152.0,152.0 L155.0,154.4 L158.0,157.0 L161.0,160.4 L164.0,160.4 L168.0,159.6 L172.0,162.0 L176.0,164.4 L180.0,166.4 L184.0,168.4 L188.0,171.0 L191.0,174.0 L195.0,176.4 L198.0,178.0 L201.0,177.6 L205.0,176.4 L209.0,176.0 L213.0,176.4 L217.0,177.0 L221.0,177.0 L227.0,175.6 L233.0,173.0 L238.0,171.0 L242.0,168.0 L246.0,163.6 L249.0,162.4 L253.0,164.4 L257.0,166.0 L261.0,166.4 L265.0,167.6 L268.0,170.0 L269.0,173.0 L272.0,174.0 L274.6,177.0 L277.6,180.0 M277.6,180.0 L281.0,180.4 L285.0,179.6 L288.0,177.6 L291.0,174.0 M277.6,180.0 L275.0,185.0 L272.6,189.0 L269.0,192.0 L265.4,194.0 L265.0,196.0 L267.0,199.0 L264.6,202.0 L264.0,206.0 L261.0,210.0 L258.0,213.0 L255.0,216.0 L253.0,220.0 L251.0,224.0 L252.0,229.0 L254.0,233.0 L256.0,236.0 L257.4,237.6 M265.4,194.0 L269.0,193.0 L273.4,195.0 L278.0,199.0 L282.0,202.0 L286.0,204.4 L290.0,205.0 L292.6,208.0 L293.0,212.0 L294.0,216.0 L297.0,218.0 L301.0,219.6 L302.6,224.0 L303.4,229.0 L303.0,234.0 L304.6,239.0 L306.0,242.0 L310.0,241.6 L315.0,241.0 L321.0,241.0 L327.0,240.4 L333.0,241.6 L339.0,244.0 L343.0,243.6 L347.0,243.0 L347.0,246.0 L351.0,245.6 L355.0,245.0 L359.0,246.4 L361.4,250.0 L364.0,254.0 L366.6,258.0 L369.0,262.4 L371.4,266.0 L373.4,269.2 M125.0,212.4 L135.0,213.8 L147.0,215.4 L146.6,216.0 L148.0,219.6 L151.0,222.0 L155.0,223.0 L159.0,223.6 L164.0,225.6 L168.0,228.0 L172.0,229.6 L176.0,230.4 L179.0,233.0 L182.0,235.6 L186.0,237.6 L190.0,239.6 L194.0,241.0 L199.0,241.0 L204.0,241.0 L208.0,242.0 L212.0,241.0 L217.0,240.4 L221.0,241.6 L225.0,243.0 L230.0,245.0 L235.0,246.0 L240.0,247.0 L244.0,248.0 L246.0,244.0 L249.0,239.6 L253.0,237.0 L257.4,237.6 M257.4,237.6 L258.0,240.0 L259.0,246.0 L258.6,251.0 L257.0,256.0 L255.4,261.0 L256.0,267.0 L254.0,272.0 L252.0,276.0 L249.0,280.0 L245.0,284.0 L242.0,287.6 L240.0,291.0 L238.6,296.0 L237.0,301.6 L235.4,306.0 L234.0,312.0 L233.0,316.0 L230.6,320.0 L229.4,325.0 L228.6,329.0 M117.0,300.4 L120.0,299.6 L124.0,299.6 L126.6,301.0 L128.0,304.0 L130.0,307.0 L133.0,309.0 L137.0,309.0 L141.0,308.0 L144.0,308.4 L147.4,310.4 L150.0,307.0 L153.0,306.0 L157.0,305.0 L160.0,304.0 L164.0,302.4 L166.0,299.0 L168.0,296.0 L171.0,295.0 L174.0,296.0 L177.0,295.0 L180.0,295.6 L183.0,295.0 L185.0,297.0 L188.0,295.0 L191.0,292.0 L195.0,291.0 L198.0,291.6 L202.0,289.0 L205.0,289.6 L209.0,291.6 L213.0,292.4 L217.0,292.0 L221.0,293.0 L225.0,293.6 L228.0,296.0 L231.0,299.0 L234.0,301.0 L237.0,301.6 M101.4,379.6 L105.0,378.0 L109.0,376.4 L113.0,374.0 L117.0,372.4 L120.0,372.0 L122.0,369.0 L123.0,367.0 L127.0,366.0 L130.0,366.0 L130.6,362.0 L129.0,358.0 L131.0,356.0 L134.0,356.0 L135.0,352.0 L138.0,349.6 L141.4,348.0 L144.6,350.0 L148.0,351.0 L151.0,349.6 L154.0,351.0 L157.0,352.0 L159.0,349.0 L162.0,347.0 L165.0,346.0 L168.0,347.0 L171.0,349.0 L173.0,352.0 L176.0,353.6 L179.0,355.0 L183.0,356.4 L187.0,356.4 L191.0,356.0 L194.0,356.0 L191.0,352.0 L190.0,350.0 L194.0,348.0 L198.0,346.0 L202.0,345.0 L204.6,343.0 L207.0,342.0 L208.6,340.0 L211.4,337.9 L214.3,335.7 L217.9,333.6 L221.4,331.4 L225.0,329.6 L228.6,327.9 L229.4,333.0 L232.0,331.0 L235.0,329.6 L238.0,331.0 L241.0,329.6 L244.0,330.4 L246.0,333.0 L247.0,330.0 L251.0,330.0 L256.0,329.6 L260.0,328.0 L262.0,325.0 L263.0,321.0 L264.0,319.0 L269.0,318.4 L274.0,317.6 L278.0,316.4 L281.0,314.4 L284.0,311.6 L287.0,312.0 L290.0,314.4 L293.0,312.0 L293.4,308.0 L294.0,304.0 L296.6,303.0 L299.0,304.0 L301.0,305.0 L304.0,303.0 L307.0,301.6 L311.0,302.4 L315.0,302.0 L316.0,297.0 L319.0,296.0 L319.4,300.0 L321.0,301.0 L324.0,301.0 L327.0,301.6 L331.0,300.0 L336.0,300.0 L341.0,301.6 L347.0,303.0 L349.0,300.0 L352.0,297.0 L355.0,294.0 L358.0,291.0 L361.0,288.0 L363.0,285.0 L365.4,281.0 L365.0,278.0 L366.0,274.0 L368.0,271.0 L370.0,268.4 L373.4,269.2 M392.6,231.0 L391.0,232.0 L390.0,236.0 L391.4,241.0 L392.0,245.0 L390.0,250.0 L388.0,255.0 L386.0,260.0 L385.0,264.0 L383.0,267.6 L380.0,270.0 L376.0,270.4 L373.4,269.2 M327.4,301.6 L328.6,306.0 L328.0,310.0 L327.0,315.0 L325.4,320.0 L324.6,325.0 L324.4,325.6 L325.6,328.3 L326.1,331.7 L327.2,335.6 L328.9,338.9 L331.1,341.7 L333.3,343.9 L335.0,346.7 L336.7,348.3 L338.9,348.6 L341.1,348.1 L343.3,347.2 L345.6,346.7 L348.9,347.2 M348.9,347.2 L347.8,345.0 L348.3,342.8 L350.0,340.6 L352.8,340.0 L355.6,339.4 L357.8,337.8 L360.0,335.0 L362.8,333.9 L366.1,333.3 L369.4,332.2 L372.2,330.0 L374.4,331.1 L377.2,333.9 L379.4,331.7 L381.7,330.0 L386.0,330.0 L390.0,328.0 L394.6,325.6 L395.0,328.0 L397.0,324.0 L401.0,323.6 L405.0,325.0 L409.0,326.0 L413.0,328.4 L417.0,331.0 L420.6,332.4 L420.0,327.0 L422.0,324.0 L426.0,323.0 L429.0,324.4 L432.0,327.0 L435.0,329.6 L440.0,330.0 L445.0,329.0 L450.0,328.4 L455.0,329.0 L460.0,329.0 L440.7,329.3 L443.6,328.6 L446.4,327.4 L449.3,328.3 L452.1,329.7 L455.0,329.3 L458.6,328.9 L462.1,328.3 L465.0,328.9 L467.1,330.0 L468.6,331.7 L470.7,330.3 L473.6,330.0 M194.0,356.0 L195.0,358.0 L197.0,360.4 L201.0,361.0 L205.0,360.4 L209.0,362.0 L212.0,364.0 L215.0,367.6 L218.0,369.0 L221.0,368.0 L225.0,369.6 L228.0,372.0 L230.0,376.0 L232.0,380.0 L234.0,384.0 L236.0,387.6 L238.6,389.0 M238.6,389.0 L242.0,388.4 L245.4,387.6 L246.0,383.0 L245.4,380.0 L247.0,379.0 L248.0,382.0 L251.0,383.6 L255.0,384.0 L258.0,385.0 L260.0,387.0 L262.6,385.6 L265.0,386.4 L268.0,388.4 L271.0,388.4 L273.4,386.0 L276.0,383.6 L279.0,382.0 L282.0,381.6 L285.0,383.0 L288.0,382.0 L291.0,381.0 L294.0,379.0 L296.6,377.0 L300.0,377.6 L303.0,378.0 L306.0,375.0 L309.0,373.0 L312.0,371.0 L316.0,370.4 L319.0,368.0 L322.0,366.0 L325.0,364.4 L328.0,363.6 L331.0,362.0 L334.0,360.0 L331.7,363.3 L333.3,360.6 L335.6,357.8 L337.2,355.6 L339.7,355.3 L341.7,353.9 L344.4,352.2 L347.2,350.6 L348.9,348.9 L348.9,347.2 M194.0,356.0 L193.0,359.0 L190.0,362.0 L187.0,365.0 L184.0,368.0 L182.0,372.0 L180.0,375.0 L178.0,378.4 L180.0,381.0 L183.0,384.0 L184.0,388.0 L186.0,391.0 L189.0,394.0 L192.0,397.0 L193.0,400.0 L191.0,404.0 L189.4,408.0 L190.6,412.0 L192.6,416.0 L194.6,420.0 L196.0,424.0 L197.0,427.0 L197.4,430.0 M101.4,419.6 L105.0,419.0 L109.0,418.0 L112.0,415.6 L116.0,414.4 L120.0,413.6 L124.0,412.4 L127.0,414.4 L130.0,417.6 L133.0,420.4 L136.0,421.6 L140.0,420.4 L144.0,421.6 L147.0,423.6 L150.0,425.0 L154.0,426.0 L159.0,427.6 L163.0,426.0 L167.0,424.4 L171.0,423.6 L174.0,422.0 L177.0,421.6 L180.0,423.6 L183.0,425.6 L187.0,425.0 L191.0,426.0 L195.0,427.6 L197.4,429.6 M197.4,429.6 L203.0,429.6 L210.0,430.0 L216.0,430.4 L218.0,429.0 L221.0,426.0 L225.0,424.0 L229.0,421.0 L232.6,418.0 L236.0,419.6 L239.0,421.0 L243.0,423.0 L244.6,423.6 M196.4,429.0 L197.0,432.0 L199.0,435.6 L202.0,438.0 L204.4,441.0 L205.0,444.0 L203.0,446.4 L200.0,448.0 L197.6,450.0 L196.4,453.0 L197.0,457.0 L198.0,460.0 L197.0,463.0 L196.0,467.0 L194.4,470.4 M238.6,389.0 L239.0,392.0 L240.0,396.0 L241.0,400.0 L242.6,405.0 L244.0,409.0 L245.4,412.0 L246.6,416.4 L247.0,420.0 L244.6,423.0 L243.4,426.0 L245.0,429.0 L246.6,433.0 L246.0,438.0 L246.6,442.0 L244.6,446.0 L244.0,450.0 L246.0,453.0 L246.6,457.0 L244.6,460.0 L242.6,462.0 L243.4,465.0 L246.0,467.0 L245.0,468.0 L246.4,471.0 L247.0,475.0 L245.0,478.0 L242.0,480.0 L240.4,483.6 L241.0,487.6 L242.4,490.4 L245.0,492.4 L248.0,493.6 L250.0,494.0 L248.0,497.0 L247.0,500.0 L249.0,501.6 M250.0,494.0 L251.6,493.0 L254.0,494.4 L256.0,496.4 L259.0,495.6 L262.0,497.0 L264.0,495.0 L267.0,494.4 L269.0,497.0 L271.6,498.0 L273.0,500.0 L272.4,504.0 L272.0,507.6 M245.6,465.6 L247.0,464.4 L250.0,463.0 L254.0,462.4 L258.0,463.6 L262.0,465.0 L264.0,462.0 L266.0,459.0 L269.0,456.4 L272.0,454.0 L275.0,455.0 L278.0,456.0 L281.0,456.4 L284.0,457.0 L287.0,455.6 L290.0,453.6 L293.0,452.0 L296.0,451.0 L300.0,451.0 L303.0,450.4 M339.7,355.3 L340.0,358.3 L341.1,361.1 L340.3,363.9 L339.4,366.7 L341.1,368.9 L342.2,370.6 L341.1,372.8 L339.7,375.0 L338.6,377.8 L338.1,380.6 L338.6,382.8 L338.6,384.4 L337.8,387.2 L338.3,389.4 L336.7,390.6 L333.9,391.1 L332.6,393.3 L332.2,395.0 L332.0,396.0 L329.0,398.4 L325.0,400.0 L323.0,403.0 L323.4,407.0 L325.0,411.0 L326.0,416.0 L324.6,421.0 L322.6,425.0 L320.0,429.0 L318.0,433.0 L316.0,437.0 L312.0,439.0 L310.0,442.0 L307.4,446.0 L305.0,449.0 L303.0,451.0 M303.0,450.4 L304.0,454.0 L305.6,459.0 L305.6,460.0 L306.7,462.8 L308.9,465.6 L309.1,468.9 L307.8,472.2 L307.6,475.0 L309.4,477.2 L311.1,478.9 L312.2,481.7 L313.1,485.0 L313.6,487.2 L312.4,489.1 L313.9,491.1 L315.3,492.8 L315.0,495.0 L315.3,497.2 L316.7,498.9 L318.3,500.9 L319.8,502.0 M313.6,487.2 L316.7,486.7 L320.6,486.4 L323.9,486.7 L323.9,483.9 L325.0,482.8 L327.2,481.7 L330.0,480.0 L332.2,478.3 L334.4,476.7 L337.2,475.6 L338.9,477.2 L341.1,476.7 L343.3,475.0 L345.6,473.3 L347.8,471.1 L350.0,471.1 L352.8,470.0 L355.6,469.1 L358.3,468.0 L358.9,465.0 L360.0,462.2 L360.6,460.0 L362.0,458.0 L364.0,454.0 L365.0,450.0 L366.4,446.0 L368.0,442.0 L370.0,438.4 L374.0,438.0 L378.4,437.0 L380.0,433.0 L382.4,430.0 M383.0,430.0 L384.4,430.0 L385.6,435.0 L386.0,440.0 L386.4,445.0 L385.6,450.0 L385.0,455.0 L385.0,460.0 L384.0,465.0 L382.4,468.0 L379.0,469.0 L378.0,471.0 L380.0,474.0 L381.0,478.0 L382.4,481.0 L381.0,485.0 L380.0,489.0 L380.4,493.0 L380.0,497.0 L379.6,500.0 L378.0,502.4 M382.4,430.0 L384.4,428.0 L387.0,426.0 L389.0,423.0 L390.0,419.0 L391.6,415.0 L393.6,411.0 L393.0,407.0 L394.0,403.0 L397.0,401.0 L394.0,402.0 L397.0,400.0 L401.0,397.0 L404.0,393.0 L407.0,390.0 L410.0,387.6 M338.6,382.8 L340.0,383.9 L341.7,382.8 L341.9,380.0 L342.2,377.2 L344.4,376.3 L347.2,376.3 L350.0,377.2 L352.8,378.9 L355.0,377.2 L357.8,376.1 L360.0,375.2 L362.2,375.0 L363.9,376.7 L365.6,378.9 L367.8,381.1 L370.0,383.3 L371.0,384.0 L376.0,384.4 L381.0,385.6 L385.0,386.4 L389.0,384.0 L392.0,381.0 L396.0,379.6 L399.4,378.4 L402.0,381.0 L404.0,384.0 L406.6,386.4 L410.0,387.6 M410.0,387.6 L413.0,387.0 L417.0,385.0 L421.0,383.0 L424.0,380.0 L427.0,378.0 L431.0,375.6 L434.0,372.0 L437.0,369.0 L440.0,366.0 L444.0,364.0 L448.0,363.0 L450.0,362.0" fill="none" stroke="#575757" stroke-width="1.45" stroke-linejoin="round" stroke-linecap="round"/>
<path d="M156.0,103.6 L159.0,102.8 L162.0,104.4 L163.0,107.0 L162.6,109.6 L165.0,110.0 L168.0,109.6 L170.0,111.0 L173.0,110.0 L175.0,111.6 L178.0,110.0 L180.0,110.8 L183.0,109.2 L186.0,110.4 L189.0,109.6 L191.0,107.6 L192.0,104.0 L194.0,100.0 L196.0,97.0 L198.0,95.0 L200.0,94.0 L203.0,94.4 L206.0,93.6 L209.0,94.0 L213.0,93.6 L216.0,94.4 L219.0,96.0 L221.0,98.0 L225.0,101.0 L229.0,103.6 L231.0,107.0 L233.0,111.0 L237.0,114.0 L240.0,118.0 L244.0,121.0 L247.0,124.4 L250.0,128.0 L254.0,131.0 L258.0,133.0 L262.0,136.0 L266.0,139.0 L267.4,144.0 L269.4,148.4 L273.4,151.6 L277.0,154.4 L279.0,159.0 L280.0,164.0 L283.0,168.0 L287.0,171.0 L291.0,173.6 L295.0,172.0 L298.6,169.6 L302.0,168.4 L304.0,165.0 L304.6,161.0 L307.4,159.6 L310.6,160.0 L312.0,163.0 L315.0,166.0 L318.0,169.0 L321.0,172.0 L324.0,175.0 L327.0,178.0 L328.0,182.4 L330.0,187.0 L333.0,190.0 L335.0,194.0 L339.0,197.0 L343.0,199.0 L347.0,202.0 L349.4,199.0 L351.4,197.0 L354.0,200.0 L357.0,204.0 L360.0,207.0 L364.0,211.0 L368.0,211.6 L372.0,211.0 L376.0,212.4 L380.0,214.0 L384.0,216.0 L388.0,218.0 L390.0,222.0 L392.0,226.0 L392.6,231.0 L396.0,234.0 L400.0,238.0 L405.0,242.4 L410.0,247.0 L415.0,252.0 L418.6,255.0 L422.0,253.0 L425.4,254.0 L428.0,258.0 L432.0,260.0 L435.0,262.4 L437.4,267.0 L441.0,269.0 L444.0,270.0 L445.0,275.0 L447.0,280.0 L449.0,285.0 L450.6,290.0 L451.0,295.0 L452.1,297.9 L454.3,300.7 L457.1,303.6 L460.0,305.4 L463.1,305.7 L464.0,308.6 L466.0,312.1 L468.6,314.3 L471.1,314.0 L473.6,315.4 L475.7,316.9 L477.9,315.7 L479.3,318.3 L481.4,319.3 L483.1,320.7 L483.1,323.6 L482.1,325.4 L483.6,326.0 L482.9,326.9 L480.0,326.9 L477.9,328.3 L476.4,329.3 L474.3,330.3 L473.6,332.1 L472.9,334.3 L474.6,335.7 L474.3,337.9 L472.6,339.3 L470.7,340.0 L472.1,341.7 L472.9,344.3 L470.7,345.4 L468.6,345.0 L464.3,345.4 L460.7,346.0 L458.6,347.9 L457.1,350.0 L455.4,352.1 L453.6,354.3 L451.4,355.0 L451.1,357.1 L450.3,359.3 L449.3,361.4 L450.7,362.1 L451.4,364.3 L448.6,365.7 L447.4,367.9 L446.9,370.0 L448.6,372.0 L450.0,375.0 L451.4,378.0 L451.0,382.0 L452.0,386.0 L453.0,391.0 L454.6,395.0 L455.0,400.0 L454.6,405.0 L455.0,409.0 L458.0,410.0 L461.4,410.4 L462.6,414.0 L466.0,415.0 L465.0,416.0 L463.0,419.0 L460.0,423.0 L457.6,427.0 L456.0,431.0 L455.0,435.0 L453.6,439.0 L452.0,442.0 L449.0,444.4 L446.0,447.0 L443.0,450.0 L440.0,453.0 L437.6,456.0 L435.6,459.0 L434.4,463.0 L436.0,466.0 L435.6,470.0 L432.0,471.0 L428.0,473.0 L424.0,475.0 L420.0,477.0 L416.0,479.6 L412.0,483.0 L409.0,486.0 L407.0,489.0 L408.4,491.6 L405.0,492.4 L401.0,493.6 L397.0,495.0 L393.0,496.4 L389.0,498.0 L385.0,499.6 L381.0,501.0 L378.0,503.0 L374.0,505.0 L372.0,507.0 L369.0,507.6 L365.0,509.0 L361.0,511.0 L357.0,513.0 L353.3,514.4 L351.1,516.1 L349.4,517.8 L350.6,516.7 L349.4,515.0 L347.8,513.1 L345.6,512.2 L343.3,511.7 L342.2,509.8 L338.9,509.1 L335.6,509.4 L332.8,510.0 L330.0,511.1 L327.8,511.1 L326.1,508.9 L324.4,506.1 L322.8,503.9 L320.6,502.2 L317.8,501.3 L314.4,502.0 L310.0,502.2 L306.7,501.7 L303.3,499.8 L300.0,499.4 L296.0,499.0 L292.0,499.6 L288.0,500.4 L284.0,502.0 L280.0,504.0 L276.0,506.4 L272.0,508.0 L269.0,510.0 L266.0,511.6 L263.6,513.0 L261.0,511.0 L258.0,509.0 L254.0,510.0 L251.0,509.0 L247.6,507.0 L244.4,505.0 L246.0,503.6 L250.0,501.6 L248.0,499.6 L244.0,497.6 L239.0,497.0 L234.0,496.4 L230.0,495.0 L226.0,494.0 L221.0,492.4 L216.0,491.0 L212.0,489.6 L209.0,487.0 L206.0,484.0 L202.0,480.0 L199.0,477.0 L197.0,473.6 L194.4,471.0 L191.0,470.0 L186.0,469.6 L181.0,470.0 L177.0,469.0 L173.0,470.0 L169.0,469.6 L165.0,471.0 L162.0,469.0 L158.0,469.6 L154.0,471.0 L150.0,472.4 L146.0,473.0 L143.0,473.0 L141.0,470.0 L139.6,466.0 L137.6,462.0 L135.0,458.4 L132.4,455.6 L130.0,453.6 L127.0,450.0 L124.0,447.0 L120.0,446.0 L116.6,444.0 L115.0,440.0 L113.0,436.0 L110.0,432.0 L106.0,428.0 L103.0,424.0 L101.4,420.0 L100.6,416.0 L101.0,410.0 L100.0,404.0 L100.0,397.0 L101.0,391.0 L102.0,385.0 L101.4,380.0 L103.0,377.0 L104.6,373.0 L105.4,368.0 L105.0,363.0 L105.4,359.0 L108.0,356.4 L113.0,355.6 L118.0,355.0 L122.0,353.0 L125.0,350.0 L127.0,346.0 L128.0,342.0 L128.0,338.0 L125.0,333.0 L122.6,328.0 L121.0,322.0 L120.6,316.0 L119.4,310.0 L118.0,305.0 L116.6,301.0 L117.0,297.0 L119.4,294.0 L122.0,290.4 L124.0,287.0 L124.0,283.0 L122.0,278.0 L120.0,272.0 L119.4,267.0 L120.0,261.0 L118.6,256.0 L116.6,252.0 L116.6,249.0 L119.0,246.4 L123.0,245.6 L126.6,244.4 L128.0,241.0 L129.0,236.0 L130.6,230.0 L132.0,225.0 L131.4,221.0 L129.0,217.0 L125.0,216.0 L125.0,212.0 L128.0,209.0 L131.0,206.0 L132.0,202.0 L134.0,199.0 L136.6,196.0 L138.0,193.0 L139.0,191.0 L138.0,189.0 L138.6,186.0 L140.0,183.0 L141.4,180.0 L142.6,177.0 L142.0,174.0 L140.0,172.0 L139.0,170.0 L140.0,168.0 L146.0,167.6 L147.4,165.6 L146.2,163.0 L146.0,160.0 L145.0,157.0 L145.4,153.0 L146.6,150.0 L146.0,149.0 L144.6,146.0 L143.0,143.0 L142.6,140.0 L140.6,137.0 L139.0,134.0 L139.4,131.0 L141.4,128.0 L144.0,126.6 L148.0,124.0 L152.0,121.0 L155.0,118.0 L157.0,115.0 L158.0,111.0 L157.4,107.0Z" fill="none" stroke="#575757" stroke-width="1.45" stroke-linejoin="round"/>
<path d="M145.8,151.6 L145.4,154.8 L145.0,157.9 L145.4,161.1 L147.0,163.5 L145.8,165.9 M141.0,171.4 L141.4,174.6 L141.8,177.8 L140.6,180.9 L138.6,183.3 L137.8,185.7 L138.0,188.1 M410.0,387.6 L413.0,387.0 L417.0,385.0 L421.0,383.0 L424.0,380.0 L427.0,378.0 L431.0,375.6 L434.0,372.0 L437.0,369.0 L440.0,366.0 L444.0,364.0 L448.0,363.0 L450.0,362.0 M410.0,387.6 L407.0,390.0 L404.0,393.0 L401.0,397.0 L397.0,400.0 L394.0,402.0 L393.0,406.0 L393.4,411.0 L392.0,415.0 L389.4,418.0 L389.0,422.0 L388.0,426.0 L385.4,428.4 L383.0,429.6 M205.7,342.1 L208.6,340.0 L211.4,337.9 L214.3,335.7 L217.9,333.6 L221.4,331.4 L225.0,329.6 L228.6,327.9" fill="none" stroke="#575757" stroke-width="2.0" stroke-linejoin="round" stroke-linecap="round"/>
<path d="M138.8,167.9 L141.0,167.1 L144.2,166.8 L145.4,165.9 L147.8,166.3 L150.5,167.1 L152.0,168.7 L151.7,170.6 L152.1,173.0 L150.9,173.7 L149.8,171.4 L148.6,170.0 L145.8,169.7 L143.4,169.8 L143.0,171.0 L141.0,171.3 L139.0,170.6 L138.2,169.4Z M137.8,187.7 L140.6,187.1 L143.4,188.5 L145.4,188.1 L147.0,188.5 L146.7,190.5 L145.0,191.3 L145.8,193.2 L148.0,195.2 L147.4,195.9 L144.2,194.4 L141.8,193.2 L139.4,192.9 L137.8,191.3 L137.4,189.3Z M144.2,149.2 L149.8,149.2 L150.1,151.2 L148.2,152.4 L145.4,152.4 L144.2,151.2Z" fill="#575757" stroke="#575757" stroke-width="0.6" stroke-linejoin="round"/>
<g font-family="'Liberation Sans', Arial, sans-serif" font-size="14.67px" fill="#4D4D4D">
<text x="53.5" y="524.4" text-anchor="end">35S</text>
<path d="M56.5,519.6 H60.2" stroke="#333" stroke-width="1.07"/>
<text x="53.5" y="437.9" text-anchor="end">34S</text>
<path d="M56.5,433.1 H60.2" stroke="#333" stroke-width="1.07"/>
<text x="53.5" y="351.5" text-anchor="end">33S</text>
<path d="M56.5,346.7 H60.2" stroke="#333" stroke-width="1.07"/>
<text x="53.5" y="265.1" text-anchor="end">32S</text>
<path d="M56.5,260.3 H60.2" stroke="#333" stroke-width="1.07"/>
<text x="53.5" y="178.7" text-anchor="end">31S</text>
<path d="M56.5,173.9 H60.2" stroke="#333" stroke-width="1.07"/>
<text x="53.5" y="92.3" text-anchor="end">30S</text>
<path d="M56.5,87.5 H60.2" stroke="#333" stroke-width="1.07"/>
<text x="133.1" y="574.4" text-anchor="middle">58W</text>
<path d="M133.1,557.5 V561.2" stroke="#333" stroke-width="1.07"/>
<text x="204.1" y="574.4" text-anchor="middle">57W</text>
<path d="M204.1,557.5 V561.2" stroke="#333" stroke-width="1.07"/>
<text x="275.0" y="574.4" text-anchor="middle">56W</text>
<path d="M275.0,557.5 V561.2" stroke="#333" stroke-width="1.07"/>
<text x="346.0" y="574.4" text-anchor="middle">55W</text>
<path d="M346.0,557.5 V561.2" stroke="#333" stroke-width="1.07"/>
<text x="417.1" y="574.4" text-anchor="middle">54W</text>
<path d="M417.1,557.5 V561.2" stroke="#333" stroke-width="1.07"/>
<text x="488.2" y="574.4" text-anchor="middle">53W</text>
<path d="M488.2,557.5 V561.2" stroke="#333" stroke-width="1.07"/>
</g>
<rect x="548" y="82.48" width="21.3" height="52.49" fill="#08306B"/>
<rect x="548" y="134.93" width="21.3" height="52.49" fill="#08519C"/>
<rect x="548" y="187.38" width="21.3" height="52.49" fill="#2171B5"/>
<rect x="548" y="239.83" width="21.3" height="52.49" fill="#4292C6"/>
<rect x="548" y="292.28" width="21.3" height="52.49" fill="#6BAED6"/>
<rect x="548" y="344.73" width="21.3" height="52.49" fill="#9ECAE1"/>
<rect x="548" y="397.18" width="21.3" height="52.49" fill="#C6DBEF"/>
<rect x="548" y="449.63" width="21.3" height="52.49" fill="#DEEBF7"/>
<rect x="548" y="502.08" width="21.3" height="52.49" fill="#F7FBFF"/>
<g font-family="'Liberation Sans', Arial, sans-serif" font-size="14.67px" fill="#000">
<text x="579.3" y="87.4">512.6</text>
<text x="579.3" y="139.8">457.8</text>
<text x="579.3" y="192.3">403.0</text>
<text x="579.3" y="244.8">348.2</text>
<text x="579.3" y="297.2">293.4</text>
<text x="579.3" y="349.6">238.6</text>
<text x="579.3" y="402.1">183.8</text>
<text x="579.3" y="454.6">129.0</text>
<text x="579.3" y="507.0">74.2</text>
<text x="579.3" y="559.4">19.3</text>
</g>
</svg>
</body></html>
